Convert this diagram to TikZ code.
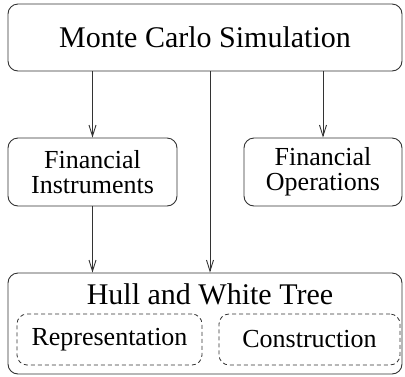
\documentclass[tikz,border=0pt]{standalone}
\usepackage{fontspec}
\setmainfont{Liberation Serif}
\usetikzlibrary{arrows.meta}
\definecolor{ln}{gray}{0.2}
\begin{document}
\begin{tikzpicture}[x=1pt,y=-1pt,
  box/.style={draw=ln,line width=0.9pt,rounded corners=10pt},
  dbox/.style={draw=ln,line width=0.8pt,dashed,dash pattern=on 4pt off 3pt,rounded corners=10pt},
  arr/.style={draw=ln,line width=0.9pt,-{Straight Barb[length=11pt,width=7pt,line width=0.9pt]}},
  big/.style={font=\fontsize{30}{34}\selectfont},
  mid/.style={font=\fontsize{26}{25}\selectfont}]
\useasboundingbox (0,0) rectangle (405,376);
\node[box,big,minimum width=394pt,minimum height=67pt] (mc) at (205,37.5) {Monte Carlo Simulation};
\node[box,mid,minimum width=169pt,minimum height=68pt,align=center] (fi) at (92.5,172) {Financial\\Instruments};
\node[box,mid,minimum width=158pt,minimum height=68pt,align=center] (fo) at (323,172) {Financial\\Operations};
\node[box,minimum width=394pt,minimum height=101pt] (hw) at (205,323.5) {};
\node[big,anchor=base] (hwt) at (210,304) {Hull and White Tree};
\node[dbox,mid,minimum width=185pt,minimum height=51pt] (rep) at (109.5,339.5) {Representation};
\node[dbox,mid,minimum width=181pt,minimum height=51pt] (con) at (309.5,339.5) {Construction};
\coordinate (mx) at (210,0);
\draw[arr] (mc.south -| fi) -- (fi.north);
\draw[arr] (mc.south -| fo) -- (fo.north);
\draw[arr] (mc.south -| mx) -- (hw.north -| mx);
\draw[arr] (fi.south) -- (hw.north -| fi);
\end{tikzpicture}
\end{document}
